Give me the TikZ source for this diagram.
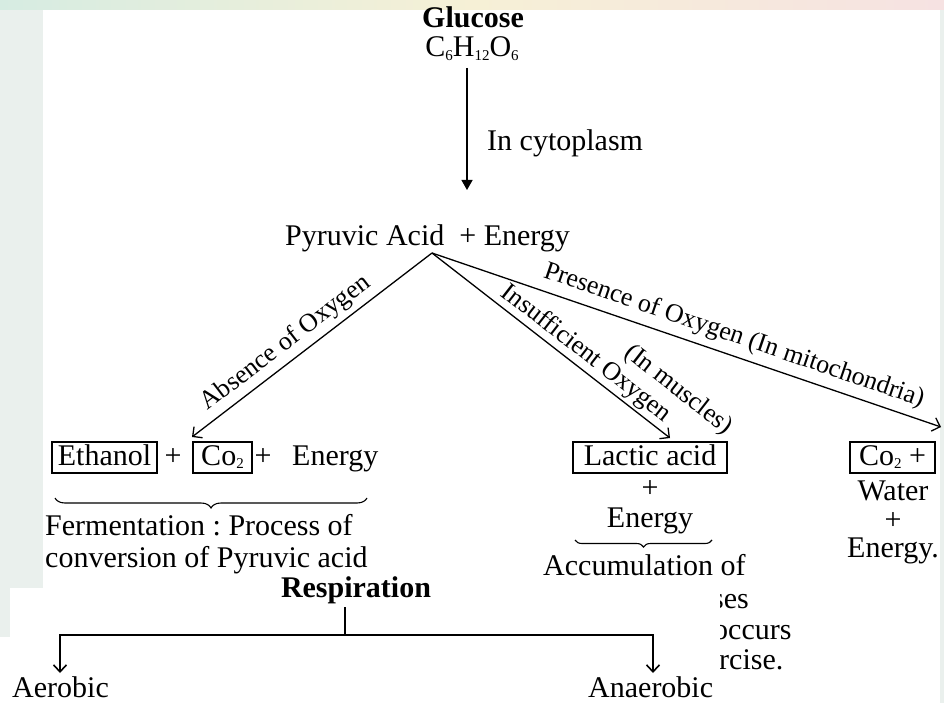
\documentclass[tikz,border=0pt]{standalone}
\usepackage{fontspec}
\setmainfont{Liberation Serif}
\usetikzlibrary{arrows.meta,decorations.pathreplacing,calc}
\definecolor{bgpale}{RGB}{234,240,237}
\definecolor{stripA}{RGB}{214,236,226}
\definecolor{stripB}{RGB}{246,240,214}
\definecolor{stripC}{RGB}{246,226,226}
\newcommand\mysub[1]{\raisebox{-3.5pt}{\fontsize{15}{15}\selectfont #1}}
\begin{document}
\frenchspacing
\begin{tikzpicture}[x=1pt,y=-1pt,
  main/.style={font=\fontsize{30}{34}\selectfont, inner sep=0pt},
  boldtxt/.style={font=\fontsize{30}{34}\selectfont\bfseries, inner sep=0pt},
  lbl/.style={font=\fontsize{26}{30}\selectfont, inner sep=0pt},
  boxed/.style={font=\fontsize{30}{34}\selectfont, draw, line width=1.3pt, text height=21pt, text depth=6pt, inner ysep=2pt, inner xsep=0pt},
  conn/.style={line width=1.3pt, -{Straight Barb[length=7pt,width=14pt,line width=1.3pt]}},
  tline/.style={line width=1.6pt},
  tarrow/.style={line width=1.6pt, -{Straight Barb[length=7pt,width=13pt,line width=1.6pt]}},
  ubrace/.style={decorate, line width=1.1pt},
]
\useasboundingbox (0,0) rectangle (944,703);
% background of the screenshot
\fill[bgpale] (0,0) rectangle (944,703);
\shade[left color=stripA, right color=stripC, middle color=stripB] (0,0) rectangle (944,10);
\fill[white] (43,10) rectangle (940,703);

% glucose
\node[boldtxt, anchor=base] (glu) at (473,28) {Glucose};
\node[main, anchor=base] (form) at (472,57) {C\mysub{6}H\mysub{12}O\mysub{6}};
\coordinate (g1) at (467,68);
\coordinate (g2) at (467,190);
\draw[line width=1.3pt, -{Triangle[length=10pt,width=11pt]}] (g1) -- (g2);
\node[main, anchor=base west] (cyto) at (487,151) {In cytoplasm};

% pyruvic acid
\node[main, anchor=base west] (pyr) at (285,246) {Pyruvic Acid~~+ Energy};
\coordinate (apex) at (432,253);
\coordinate (eL) at (192,437);
\coordinate (eM) at (670,438);
\coordinate (eR) at (941,427);
\draw[conn] (apex) -- (eL);
\draw[conn] (apex) -- (eM);
\draw[conn] (apex) -- (eR);
\node[lbl, rotate=37.5] (abs) at (286,343) {Absence of Oxygen};
\node[lbl, rotate=-37.9] (ins) at (586,354) {Insufficient Oxygen};
\node[lbl, rotate=-37.9] (mus) at (678,390) {(In muscles)};
\node[lbl, rotate=-18.9] (pres) at (734,336) {Presence of Oxygen (In mitochondria)};

% left products
\node[boxed, minimum width=105pt] (eth) at (104.5,457.5) {Ethanol};
\node[main, anchor=base] (p1) at (173,465) {+};
\node[boxed, minimum width=59pt] (co2a) at (222.5,457.5) {Co\mysub{2}};
\node[main, anchor=base] (p2) at (263,465) {+};
\node[main, anchor=base west] (en1) at (292,465) {Energy};
\coordinate (b1) at (55,498);
\coordinate (b2) at (367,498);
\draw[ubrace, decoration={brace, amplitude=10pt, mirror}] (b1) -- (b2);
\node[main, anchor=base west] (f1) at (45,535) {Fermentation : Process of};
\node[main, anchor=base west] (f2) at (45,567) {conversion of Pyruvic acid};

% middle products
\node[boxed, minimum width=154pt] (lac) at (650,457.5) {Lactic acid};
\node[main, anchor=base] (p3) at (650,497) {+};
\node[main, anchor=base] (en2) at (650,527) {Energy};
\coordinate (b3) at (575,540);
\coordinate (b4) at (712,540);
\draw[ubrace, decoration={brace, amplitude=7pt, mirror}] (b3) -- (b4);
\node[main, anchor=base west] (acc) at (543,575) {Accumulation of};
\node[main, anchor=base west] (fr1) at (712,608) {ses};
\node[main, anchor=base west] (fr2) at (713,639) {occurs};
\node[main, anchor=base west] (fr3) at (719,669) {rcise.};

% right products
\node[boxed, minimum width=85pt] (co2b) at (892.5,457.5) {Co\mysub{2} +};
\node[main, anchor=base] (wat) at (893,500) {Water};
\node[main, anchor=base] (p4) at (893,529) {+};
\node[main, anchor=base] (en3) at (893,557) {Energy.};

% overlaid panel
\fill[white] (10,588) rectangle (720,703);
\fill[white] (0,637) rectangle (720,703);

% respiration tree
\node[boldtxt, anchor=base] (resp) at (356,597) {Respiration};
\coordinate (rt) at (345,607);
\coordinate (rj) at (345,635);
\coordinate (ta) at (60,673);
\coordinate (tb) at (653,673);
\draw[tline] (rt) -- (rj);
\draw[tarrow] (rj) -| (ta);
\draw[tarrow] (rj) -| (tb);
\node[main, anchor=base west] (aer) at (12,697) {Aerobic};
\node[main, anchor=base west] (ana) at (588,697) {Anaerobic};
\end{tikzpicture}
\end{document}
